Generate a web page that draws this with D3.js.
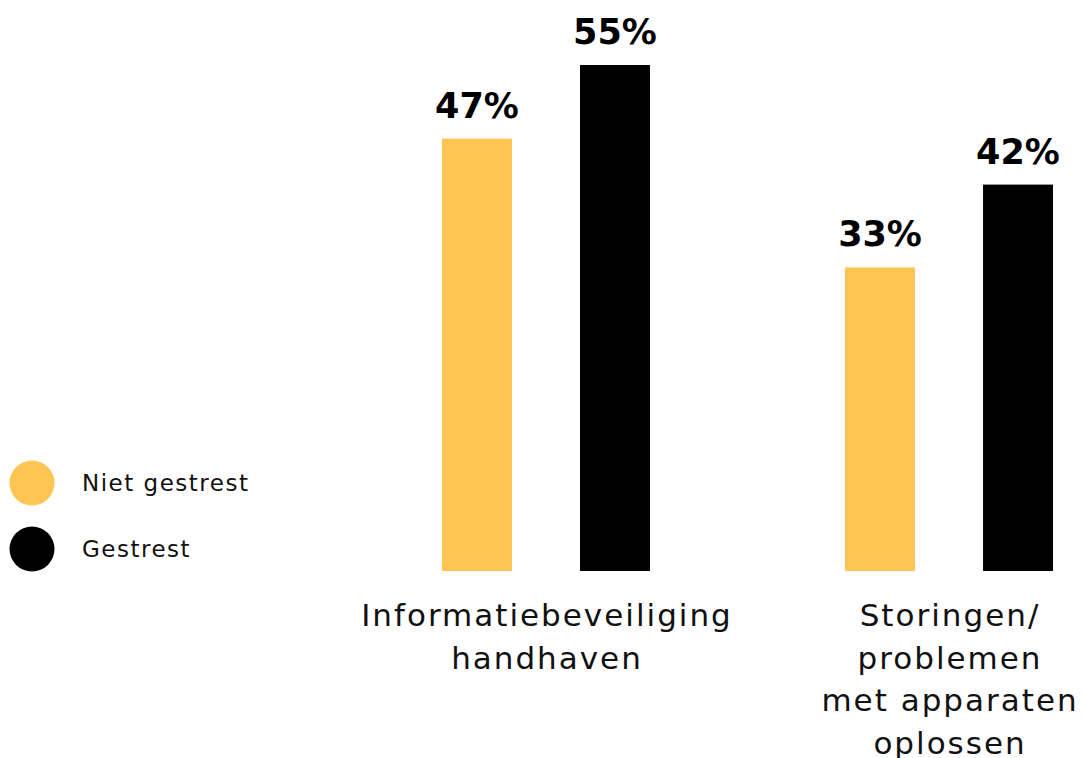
<!DOCTYPE html>
<html><head><meta charset="utf-8">
<script src="https://cdn.jsdelivr.net/npm/d3@7"></script>
<style>body{margin:0;background:#fff}svg{display:block}text{font-family:"DejaVu Sans",sans-serif}</style>
</head><body>
<svg id="c" width="1083" height="758"></svg>
<script>
const categories = [["Informatiebeveiliging","handhaven"],["Storingen/","problemen","met apparaten","oplossen"]];
const categoryKeys = ["Informatiebeveiliging handhaven","Storingen/problemen met apparaten oplossen"];
const series = ["Niet gestrest","Gestrest"];
const nietGestrest = [47,33];
const gestrest = [55,42];
const colors = ["#FEC553","#000000"];

const svg = d3.select("#c");
const x0 = d3.scaleBand().domain(categoryKeys).range([442,1053]).paddingInner(0.484).paddingOuter(0);
const x1 = d3.scaleBand().domain(series).range([0,x0.bandwidth()]).paddingInner(0.493).paddingOuter(0);
const y = d3.scaleLinear().domain([0,55]).range([571,65]);
const color = d3.scaleOrdinal().domain(series).range(colors);

const data = categoryKeys.map((k,i)=>({key:k,lines:categories[i],values:[{s:series[0],v:nietGestrest[i]},{s:series[1],v:gestrest[i]}]}));

const g = svg.selectAll("g.grp").data(data).join("g").attr("class","grp")
  .attr("transform",d=>`translate(${x0(d.key)},0)`);
g.selectAll("rect").data(d=>d.values).join("rect")
  .attr("x",d=>x1(d.s)).attr("width",x1.bandwidth())
  .attr("y",d=>y(d.v)).attr("height",d=>y(0)-y(d.v)).attr("fill",d=>color(d.s));
g.selectAll("text.val").data(d=>d.values).join("text").attr("class","val")
  .attr("x",d=>x1(d.s)+x1.bandwidth()/2).attr("y",d=>y(d.v)-21)
  .attr("text-anchor","middle").attr("font-size",35).attr("font-weight",700).attr("fill","#000")
  .text(d=>d.v+"%");
g.append("text").attr("text-anchor","middle").attr("font-size",31).attr("letter-spacing",2).attr("fill","#111")
  .selectAll("tspan").data(d=>d.lines).join("tspan")
  .attr("x",x0.bandwidth()/2+1).attr("y",(d,i)=>626+i*42.5).text(d=>d);

const leg = svg.selectAll("g.leg").data(series).join("g").attr("class","leg")
  .attr("transform",(d,i)=>`translate(32,${483+i*66})`);
leg.append("circle").attr("r",22.5).attr("fill",d=>color(d));
leg.append("text").attr("x",50).attr("y",8).attr("font-size",23).attr("letter-spacing",1.5).attr("fill","#111").text(d=>d);
</script>
</body></html>
